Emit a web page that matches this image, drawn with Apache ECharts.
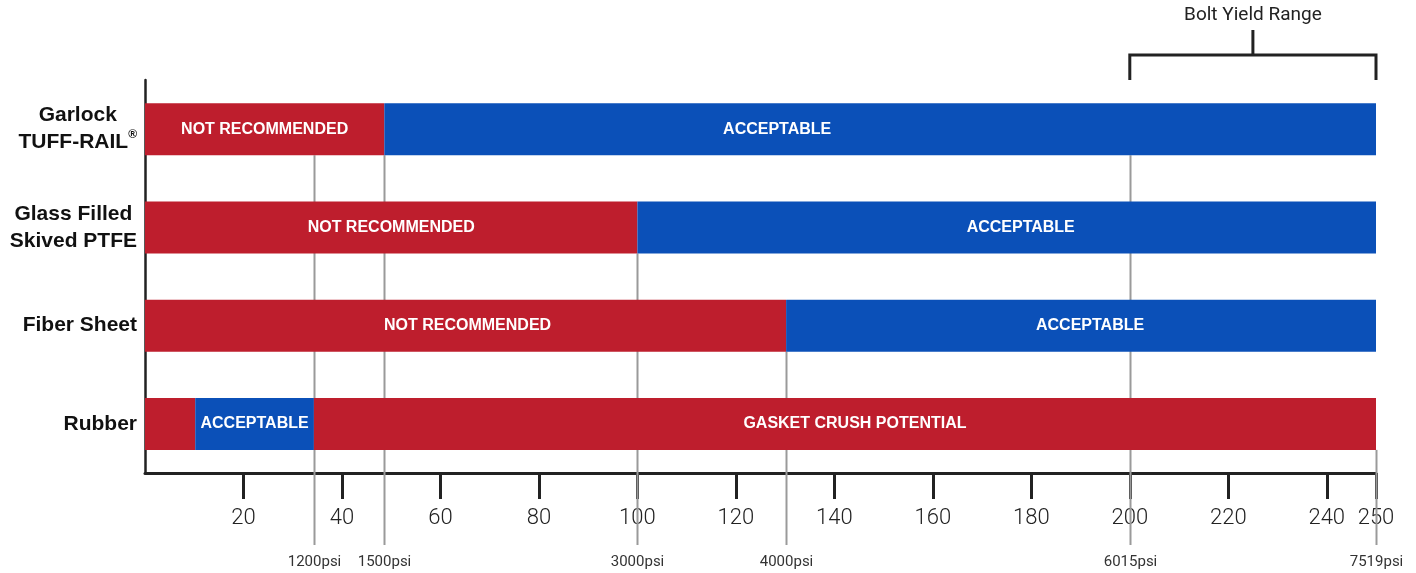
<!DOCTYPE html>
<html><head><meta charset="utf-8">
<script src="https://cdn.jsdelivr.net/npm/echarts@6/dist/echarts.min.js"></script>
<style>html,body{margin:0;padding:0;background:#fff}#c{width:1416px;height:573px}</style>
</head><body><div id="c"></div>
<script>
const categories = ['Garlock\nTUFF-RAIL®', 'Glass Filled\nSkived PTFE', 'Fiber Sheet', 'Rubber'];
const boundaries = [[0, 48.6, 250], [0, 100, 250], [0, 130.2, 250], [0, 10.2, 34.3, 250]];
const segLabels = [
  ['NOT RECOMMENDED', 'ACCEPTABLE'],
  ['NOT RECOMMENDED', 'ACCEPTABLE'],
  ['NOT RECOMMENDED', 'ACCEPTABLE'],
  ['', 'ACCEPTABLE', 'GASKET CRUSH POTENTIAL']
];
const segKinds = [['bad', 'good'], ['bad', 'good'], ['bad', 'good'], ['bad', 'good', 'bad']];
const tickValues = [20, 40, 60, 80, 100, 120, 140, 160, 180, 200, 220, 240, 250];
const refValues = [34.3, 48.6, 100, 130.2, 200, 250];
const refLabels = ['1200psi', '1500psi', '3000psi', '4000psi', '6015psi', '7519psi'];
const refStartRow = [0, 0, 1, 2, 0, 3];
const boltRange = [200, 250];
const boltLabel = 'Bolt Yield Range';

// styling (label nudges as in the original artwork)
const RED = '#BE1E2D', BLUE = '#0B50B8';
const BAR_W = 52;
const labelNudge = [[0, -103], [0, 14], [2, 9], [0, 0, 10]];

const segSeries = [0, 1, 2].map(function (s) {
  return {
    type: 'bar', stack: 'all', barWidth: BAR_W, z: 3,
    data: categories.map(function (c, i) {
      const b = boundaries[i];
      if (s + 1 >= b.length) return {value: '-'};
      return {
        value: +(b[s + 1] - b[s]).toFixed(3),
        itemStyle: {color: segKinds[i][s] === 'bad' ? RED : BLUE},
        label: {show: !!segLabels[i][s], formatter: segLabels[i][s], offset: [labelNudge[i][s] || 0, 0]}
      };
    }),
    label: {position: 'inside', color: '#fff', fontWeight: 'bold', fontSize: 16, fontFamily: 'Liberation Sans'},
    emphasis: {disabled: true}, animation: false
  };
});

const catFont = {fontSize: 21, fontWeight: 'bold', color: '#111', fontFamily: 'Liberation Sans', align: 'center', lineHeight: 27};

const chart = echarts.init(document.getElementById('c'));
chart.setOption({
  animation: false,
  grid: {left: 145, right: 40, top: 80, bottom: 100},
  xAxis: {
    type: 'value', min: 0, max: 250,
    splitLine: {show: false},
    axisLine: {show: true, lineStyle: {color: '#222', width: 3}},
    axisTick: {show: true, customValues: tickValues, length: 26, lineStyle: {color: '#222', width: 3}},
    axisLabel: {customValues: tickValues, margin: 34, fontSize: 22, color: '#222', fontFamily: 'Roboto', fontWeight: 300}
  },
  yAxis: {
    type: 'category', data: categories, inverse: true,
    axisLine: {show: true, lineStyle: {color: '#222', width: 2.5}},
    axisTick: {show: false},
    axisLabel: {
      margin: 8, fontSize: 21, fontWeight: 'bold', color: '#111', fontFamily: 'Liberation Sans',
      lineHeight: 27, align: 'right',
      formatter: function (v) {
        return v.split('\n').map(function (line) {
          if (line.indexOf('®') >= 0) return '{c|' + line.replace('®', '') + '}{sup|®}';
          return '{c|' + line + '}';
        }).join('\n');
      },
      rich: {
        c: catFont,
        sup: {fontSize: 12, fontWeight: 'bold', color: '#111', align: 'center', verticalAlign: 'top', padding: [0, 0, 10, 0], fontFamily: 'Liberation Sans'}
      }
    }
  },
  series: segSeries.concat([
    {
      type: 'custom', z: 1, silent: true,
      data: refValues.map(function (v, i) { return [v, refStartRow[i]]; }),
      encode: {x: 0, y: 1},
      renderItem: function (params, api) {
        const p = api.coord([api.value(0), api.value(1)]);
        const cs = params.coordSys;
        const axisY = cs.y + cs.height;
        const x = Math.round(p[0]) + 0.5;
        return {
          type: 'group', children: [
            {type: 'line', shape: {x1: x, y1: p[1] + BAR_W / 2, x2: x, y2: axisY + 72}, style: {stroke: '#9a9a9a', lineWidth: 2}},
            {type: 'text', style: {text: refLabels[params.dataIndex], x: x, y: axisY + 89, align: 'center', verticalAlign: 'middle', fontSize: 15, fill: '#333', fontFamily: 'Roboto'}}
          ]
        };
      }
    },
    {
      type: 'custom', z: 4, silent: true,
      data: [[boltRange[0], 0, boltRange[1]]],
      encode: {x: [0, 2], y: 1},
      renderItem: function (params, api) {
        const cs = params.coordSys;
        const top = cs.y;
        const x1 = api.coord([api.value(0), 0])[0];
        const x2 = api.coord([api.value(2), 0])[0];
        const xm = (x1 + x2) / 2;
        return {
          type: 'group', children: [
            {type: 'polyline', shape: {points: [[x1, top], [x1, top - 25], [x2, top - 25], [x2, top]]}, style: {stroke: '#222', lineWidth: 3, fill: null}},
            {type: 'line', shape: {x1: xm, y1: top - 25, x2: xm, y2: top - 50}, style: {stroke: '#222', lineWidth: 3}},
            {type: 'text', style: {text: boltLabel, x: xm, y: top - 65, align: 'center', verticalAlign: 'middle', fontSize: 19, fill: '#222', fontFamily: 'Roboto'}}
          ]
        };
      }
    }
  ])
});
</script></body></html>
